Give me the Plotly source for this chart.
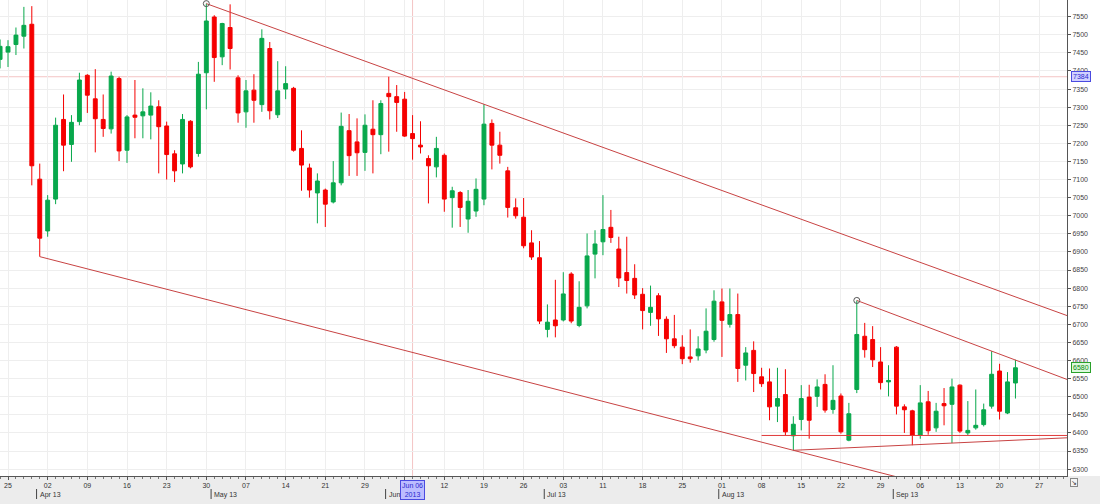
import pandas as pd
import plotly.graph_objects as go

# ---------------- data ----------------
holidays = ["2013-03-29", "2013-05-27", "2013-07-04", "2013-09-02"]
calendar = pd.bdate_range("2013-03-22", "2013-10-04", freq="C", holidays=holidays)

open_ = [7432, 7452, 7473, 7496, 7529, 7101, 6958, 7046, 7266, 7197,
         7260, 7388, 7323, 7266, 7240, 7379, 7181, 7278, 7276, 7278,
         7301, 7248, 7171, 7143, 7261, 7172, 7395, 7549, 7439, 7520,
         7381, 7287, 7347, 7307, 7462, 7279, 7350, 7352, 7186, 7132,
         7063, 7071, 7038, 7091, 7235, 7204, 7175, 7239, 7224, 7338,
         7329, 7322, 7227, 7195, 7158, 7135, 7167, 7050, 7064, 6991,
         7013, 7046, 7255, 7195, 7124, 7022, 6996, 6925, 6884, 6686,
         6712, 6712, 6839, 6697, 6751, 6894, 6928, 6968, 6908, 6843,
         6827, 6783, 6733, 6779, 6714, 6660, 6637, 6610, 6613, 6629,
         6658, 6762, 6700, 6727, 6587, 6628, 6555, 6541, 6474, 6506,
         6392, 6437, 6499, 6501, 6534, 6465, 6502, 6380, 6520, 6667,
         6658, 6596, 6541, 6637, 6472, 6461, 6394, 6486, 6414, 6481,
         6479, 6532, 6400, 6414, 6423, 6474, 6571, 6455, 6538]
high = [7487, 7485, 7520, 7577, 7579, 7144, 7057, 7271, 7335, 7278,
        7395, 7391, 7405, 7335, 7398, 7384, 7278, 7375, 7352, 7341,
        7319, 7260, 7181, 7281, 7264, 7425, 7586, 7554, 7533, 7584,
        7388, 7375, 7391, 7515, 7480, 7427, 7413, 7356, 7236, 7144,
        7117, 7075, 7151, 7285, 7281, 7269, 7280, 7319, 7319, 7384,
        7361, 7342, 7278, 7261, 7167, 7218, 7172, 7080, 7068, 7071,
        7103, 7308, 7266, 7232, 7135, 7048, 7049, 6960, 6930, 6755,
        6823, 6844, 6844, 6819, 6951, 6960, 7057, 7016, 6942, 6942,
        6866, 6800, 6807, 6786, 6722, 6726, 6670, 6686, 6667, 6744,
        6794, 6799, 6799, 6785, 6637, 6653, 6580, 6578, 6580, 6576,
        6446, 6532, 6533, 6548, 6562, 6587, 6509, 6483, 6766, 6704,
        6695, 6637, 6587, 6640, 6479, 6464, 6532, 6516, 6483, 6524,
        6550, 6534, 6488, 6520, 6481, 6626, 6591, 6568, 6602]
low = [7407, 7411, 7444, 7462, 7084, 6887, 6942, 7032, 7123, 7149,
       7250, 7284, 7175, 7218, 7227, 7151, 7146, 7214, 7214, 7211,
       7117, 7100, 7093, 7117, 7131, 7163, 7294, 7370, 7416, 7404,
       7257, 7243, 7257, 7287, 7266, 7270, 7322, 7177, 7069, 7050,
       6979, 6969, 7034, 7084, 7110, 7110, 7124, 7117, 7170, 7177,
       7232, 7218, 7155, 7172, 7034, 7106, 7011, 6967, 6969, 6953,
       6997, 7029, 7128, 7144, 6995, 6992, 6910, 6878, 6701, 6664,
       6664, 6708, 6703, 6692, 6744, 6827, 6891, 6925, 6803, 6785,
       6770, 6686, 6696, 6668, 6621, 6634, 6590, 6594, 6600, 6620,
       6652, 6610, 6691, 6541, 6545, 6513, 6527, 6435, 6430, 6394,
       6352, 6407, 6384, 6472, 6456, 6453, 6398, 6377, 6510, 6608,
       6582, 6520, 6501, 6451, 6400, 6366, 6384, 6395, 6403, 6421,
       6372, 6400, 6394, 6409, 6418, 6467, 6437, 6452, 6495]
close = [7468, 7467, 7499, 7526, 7138, 6938, 7043, 7250, 7195, 7258,
         7375, 7333, 7268, 7241, 7386, 7179, 7273, 7272, 7287, 7303,
         7246, 7169, 7124, 7266, 7135, 7391, 7538, 7437, 7531, 7462,
         7284, 7345, 7319, 7490, 7290, 7345, 7365, 7181, 7140, 7071,
         7096, 7032, 7091, 7247, 7166, 7174, 7250, 7224, 7310, 7329,
         7313, 7220, 7213, 7190, 7138, 7186, 7046, 7069, 7023, 7040,
         7073, 7253, 7195, 7167, 7023, 7000, 6917, 6886, 6709, 6706,
         6696, 6784, 6709, 6747, 6889, 6922, 6962, 6940, 6828, 6821,
         6781, 6738, 6747, 6715, 6660, 6641, 6605, 6605, 6632, 6681,
         6764, 6711, 6727, 6578, 6621, 6564, 6536, 6472, 6495, 6403,
         6424, 6495, 6435, 6527, 6463, 6490, 6403, 6453, 6672, 6630,
         6602, 6539, 6545, 6474, 6464, 6394, 6483, 6406, 6460, 6475,
         6527, 6405, 6407, 6421, 6464, 6562, 6460, 6541, 6580]

dates = calendar[:len(open_)]

# tick labels: every 5th trading day from 2013-03-25
tick_dates = [d for d in calendar[1::5] if d <= pd.Timestamp("2013-09-27")]
month_labels = ["Apr 13", "May 13", "Jun", "Jul 13", "Aug 13", "Sep 13"]

crosshair_date = pd.Timestamp("2013-06-06")
crosshair_price = 7384

# drawings: lines through two anchors, extended to the right edge
trend_lines = [
    ("2013-04-30", "high", "2013-06-19", "high"),   # upper channel
    ("2013-04-01", "low", "2013-08-14", "low"),     # lower channel
    ("2013-08-26", "high", "2013-09-19", "high"),   # short resistance
    ("2013-08-14", "low", "2013-09-12", "low"),     # rising support
]
support_level = ("2013-08-08", 6393)
circle_points = [("2013-04-30", "high"), ("2013-08-26", "high")]

# ---------------- figure ----------------
pos = {d: i - 1 for i, d in enumerate(calendar)}  # 2013-03-22 sits at -1
x = [pos[d] for d in dates]
series = {"open": open_, "high": high, "low": low, "close": close}
date_list = list(dates)

def val(date, field):
    return series[field][date_list.index(pd.Timestamp(date))]

X_RANGE = [-1.01, 133.5]
Y_RANGE = [6281, 7596]
LINE_COL = "#c84343"
FONT = "Liberation Sans"
PLOT_H = 476

fig = go.Figure()

fig.add_trace(go.Candlestick(
    x=x, open=open_, high=high, low=low, close=close,
    increasing=dict(fillcolor="#08a84c", line=dict(color="#08a84c", width=1)),
    decreasing=dict(fillcolor="#f50000", line=dict(color="#f50000", width=1)),
    whiskerwidth=0, hoverinfo="skip", name="price"))

for d0, f0, d1, f1 in trend_lines:
    x0, y0 = pos[pd.Timestamp(d0)], val(d0, f0)
    x1, y1 = pos[pd.Timestamp(d1)], val(d1, f1)
    slope = (y1 - y0) / (x1 - x0)
    xe = X_RANGE[1]
    fig.add_trace(go.Scatter(x=[x0, xe], y=[y0, y0 + slope * (xe - x0)], mode="lines",
                             line=dict(color=LINE_COL, width=1), hoverinfo="skip"))

fig.add_trace(go.Scatter(
    x=[pos[pd.Timestamp(d)] for d, f in circle_points],
    y=[val(d, f) for d, f in circle_points], mode="markers",
    marker=dict(symbol="circle-open", size=6, color="#555555", line=dict(width=1)),
    hoverinfo="skip"))

shapes = []
# bottom band
shapes.append(dict(type="rect", xref="paper", yref="paper", x0=-0.01, x1=1.04,
                   y0=-28 / PLOT_H, y1=0, fillcolor="#ececec", line=dict(width=0), layer="below"))
# crosshair
cx = pos[crosshair_date]
shapes.append(dict(type="line", xref="x", yref="paper", x0=cx, x1=cx, y0=0, y1=1,
                   line=dict(color="#f4c4c4", width=1), layer="below"))
shapes.append(dict(type="line", xref="paper", yref="y", x0=0, x1=1,
                   y0=crosshair_price, y1=crosshair_price,
                   line=dict(color="#f4c4c4", width=1), layer="below"))
# horizontal support level
sx = pos[pd.Timestamp(support_level[0])]
shapes.append(dict(type="line", xref="x", yref="y", x0=sx, x1=X_RANGE[1],
                   y0=support_level[1], y1=support_level[1],
                   line=dict(color="#e03a3a", width=1), layer="above"))

annotations = []
month_starts = [[d for d in calendar if d.month == m][0] for m in range(4, 10)]
for first, lab in zip(month_starts, month_labels):
    mx = pos[first] - 0.4
    shapes.append(dict(type="line", xref="x", yref="paper", x0=mx, x1=mx,
                       y0=-13 / PLOT_H, y1=-23 / PLOT_H, line=dict(color="#444", width=1)))
    annotations.append(dict(x=mx, y=-18.5 / PLOT_H, xref="x", yref="paper", text=lab,
                            showarrow=False, xanchor="left", yanchor="middle", xshift=1,
                            font=dict(size=7, color="#333", family=FONT)))

annotations.append(dict(x=cx, y=0, xref="x", yref="paper", yanchor="top", yshift=-4,
                        text="Jun 06<br>2013", showarrow=False,
                        font=dict(size=7, color="#2a2ad0", family=FONT),
                        bgcolor="#bcbcff", bordercolor="#4a4ae0", borderwidth=1, borderpad=1))
annotations.append(dict(x=1, y=crosshair_price, xref="paper", yref="y", xanchor="left",
                        xshift=4, text=str(crosshair_price), showarrow=False,
                        font=dict(size=7, color="#2a2ad0", family=FONT),
                        bgcolor="#d0d0ff", bordercolor="#4a4ae0", borderwidth=1, borderpad=1))
annotations.append(dict(x=1, y=close[-1], xref="paper", yref="y", xanchor="left",
                        xshift=4, text=str(close[-1]), showarrow=False,
                        font=dict(size=7, color="#0a8a0a", family=FONT),
                        bgcolor="#dcf8dc", bordercolor="#2aa02a", borderwidth=1, borderpad=1))
annotations.append(dict(x=1, y=0, xref="paper", yref="paper", xanchor="left", yanchor="top",
                        xshift=3, yshift=-2, text="↘", showarrow=False,
                        font=dict(size=7, color="#333"), bordercolor="#888", borderwidth=1,
                        borderpad=0, bgcolor="#f4f4f4"))

# the tick under the crosshair date box is hidden in the reference
tick_text = ["" if abs((d - crosshair_date).days) <= 1 else d.strftime("%d") for d in tick_dates]

fig.update_layout(
    width=1100, height=504, margin=dict(l=0, r=33, t=0, b=28),
    paper_bgcolor="white", plot_bgcolor="white", showlegend=False,
    shapes=shapes, annotations=annotations,
    font=dict(family=FONT, size=7, color="#333"),
)
fig.update_xaxes(
    range=X_RANGE, rangeslider_visible=False,
    tickmode="array", tickvals=[pos[d] for d in tick_dates], ticktext=tick_text,
    ticks="outside", ticklen=3, tickcolor="#555",
    showline=True, linecolor="#555", linewidth=1,
    showgrid=True, gridcolor="#eeeeee", zeroline=False,
    tickfont=dict(size=7, color="#333", family=FONT),
    minor=dict(tickmode="linear", tick0=0, dtick=1, ticks="outside", ticklen=2,
               tickcolor="#777", showgrid=False),
)
fig.update_yaxes(
    range=Y_RANGE, side="right", tick0=6300, dtick=50,
    ticks="outside", ticklen=3, tickcolor="#555",
    showline=True, linecolor="#555", linewidth=1,
    showgrid=True, gridcolor="#eeeeee", zeroline=False,
    tickfont=dict(size=7, color="#444", family=FONT),
)

fig.write_html("out.html", config={"displayModeBar": False},
               post_script="document.body.style.margin='0';document.body.style.overflow='hidden';")
